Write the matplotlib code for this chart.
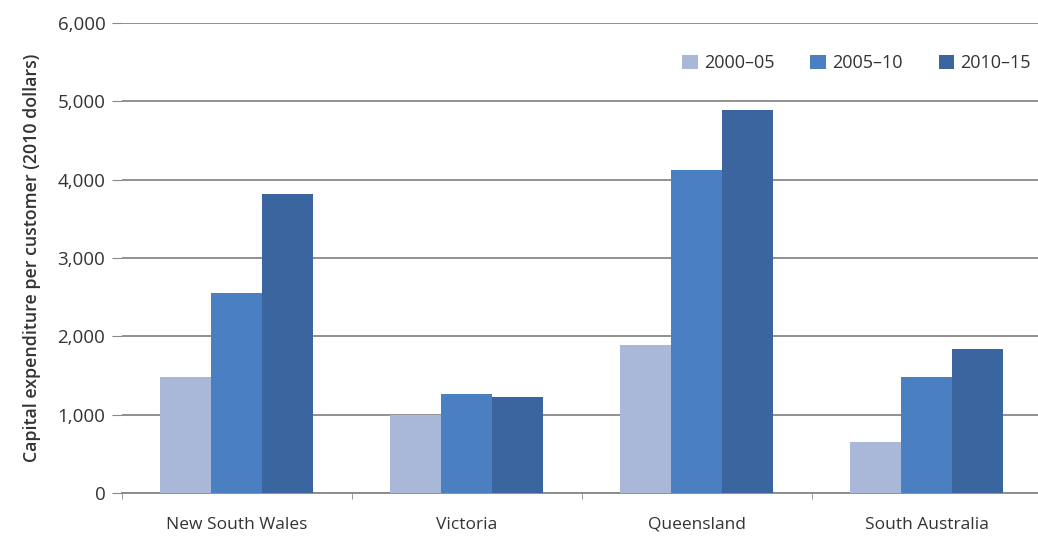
import numpy as np
import matplotlib.pyplot as plt
from matplotlib.ticker import FuncFormatter

states = ["New South Wales", "Victoria", "Queensland", "South Australia"]
periods = ["2000\u201305", "2005\u201310", "2010\u201315"]
v_2000_05 = [1480, 1000, 1890, 650]
v_2005_10 = [2555, 1260, 4125, 1485]
v_2010_15 = [3820, 1230, 4890, 1835]
colors = ["#A9B8D9", "#4A7FC1", "#3A659E"]

plt.rcParams["font.family"] = ["Open Sans", "DejaVu Sans"]
fig = plt.figure(figsize=(10.38, 5.36), dpi=100)
ax = fig.add_axes([0.1175, 0.080, 0.886, 0.877])

x = np.arange(len(states))
w = 0.222
for i, (vals, lab) in enumerate(zip([v_2000_05, v_2005_10, v_2010_15], periods)):
    ax.bar(x + (i - 1) * w, vals, w, color=colors[i], label=lab, zorder=3)

ax.set_ylim(0, 6000)
ax.set_xlim(-0.5, len(states) - 0.5)
ax.set_yticks(range(0, 6001, 1000))
ax.yaxis.set_major_formatter(FuncFormatter(lambda v, p: f"{int(v):,}"))
ax.grid(axis="y", color="#888888", linewidth=1.3, zorder=0)
ax.set_xticks(x)
ax.set_xticklabels(states)
ax.set_xticks(np.arange(-0.5, len(states)), minor=True)
ax.tick_params(axis="x", which="major", length=0, pad=17, labelsize=12.5, labelcolor="#333333")
ax.tick_params(axis="x", which="minor", length=4, color="#888888")
ax.tick_params(axis="y", length=7, color="#888888", labelsize=13.5, labelcolor="#333333", pad=5)
for s in ["top", "right", "left"]:
    ax.spines[s].set_visible(False)
ax.spines["bottom"].set_color("#888888")
ax.spines["bottom"].set_linewidth(1.3)

ax.set_ylabel("Capital expenditure per customer (2010 dollars)", fontsize=12.8,
              fontweight="semibold", color="#333333", labelpad=12)

ax.legend(loc="upper right", bbox_to_anchor=(1.006, 0.968), ncol=3, frameon=False,
          fontsize=13, handlelength=0.85, handleheight=0.85, handletextpad=0.35,
          columnspacing=2.0, labelcolor="#333333")

fig.savefig("out.png", dpi=100)
